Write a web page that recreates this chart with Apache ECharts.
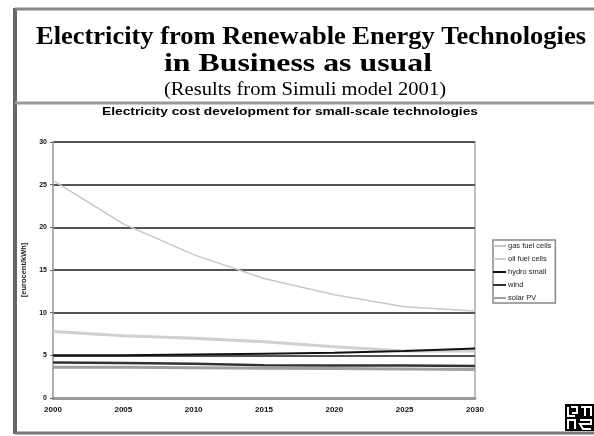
<!DOCTYPE html>
<html>
<head>
<meta charset="utf-8">
<script src="https://cdn.jsdelivr.net/npm/echarts@6/dist/echarts.min.js"></script>
<style>
  html, body { margin: 0; padding: 0; background: #fff; }
  #chart { width: 594px; height: 436px; }
</style>
</head>
<body>
<div id="chart"></div>
<script>
// Cost development, small-scale renewable technologies (cent/kWh)
const years = [2000, 2005, 2010, 2015, 2020, 2025, 2030];
const gasFuelCells = [25.5, 20.4, 16.8, 14.0, 12.1, 10.7, 10.2];
const oilFuelCells = [7.8, 7.3, 7.0, 6.6, 6.0, 5.5, 5.5];
const hydroSmall = [5.0, 5.0, 5.1, 5.2, 5.3, 5.5, 5.8];
const wind = [4.15, 4.1, 4.0, 3.85, 3.8, 3.8, 3.75];
const solarPV = [3.6, 3.6, 3.55, 3.5, 3.45, 3.4, 3.35];
const seriesNames = ['gas fuel cells', 'oil fuel cells', 'hydro small', 'wind', 'solar PV'];
const yTicks = [0, 5, 10, 15, 20, 25, 30];

const pairs = vals => years.map((y, i) => [y, vals[i]]);

// horizontal stretch so a heading spans a given width
const measureCtx = document.createElement('canvas').getContext('2d');
function stretchTo(text, font, width) {
  measureCtx.font = font;
  return width / measureCtx.measureText(text).width;
}

function heading(text, cx, cy, family, weight, size, width) {
  const font = `${weight} ${size}px "${family}"`;
  return {
    type: 'text', x: cx, y: cy, scaleX: stretchTo(text, font, width),
    style: { text, font, fill: '#000', align: 'center', verticalAlign: 'middle' }
  };
}

const chart = echarts.init(document.getElementById('chart'), null, { renderer: 'canvas' });

const lineSeries = (name, vals, color, width) => ({
  name, type: 'line', data: pairs(vals), showSymbol: false, symbol: 'none',
  lineStyle: { color, width }, itemStyle: { color },
  emphasis: { disabled: true }, z: 3
});

chart.setOption({
  backgroundColor: '#fff',
  animation: false,
  grid: { left: 53, right: 119, top: 142, bottom: 38, show: true, borderColor: '#aaa', borderWidth: 1.5 },
  legend: {
    data: seriesNames, orient: 'vertical', left: 493, top: 240,
    itemWidth: 13, itemHeight: 2, itemGap: 5,
    padding: [2, 4, 1, 0],
    borderColor: '#888', borderWidth: 1.5,
    textStyle: { fontFamily: 'Liberation Sans', fontSize: 7.5, color: '#222', padding: [0, 0, 0, -3] },
    icon: 'rect'
  },
  xAxis: {
    type: 'value', min: 2000, max: 2030, interval: 5,
    axisLine: { show: true, lineStyle: { color: '#999', width: 3 } },
    axisTick: { show: false },
    splitLine: { show: false },
    axisLabel: { margin: 8, fontFamily: 'Liberation Sans', fontWeight: 'bold', fontSize: 8, color: '#111',
      formatter: v => String(v) }
  },
  yAxis: {
    type: 'value', min: 0, max: 30, interval: 5,
    name: '[eurocent/kWh]', nameLocation: 'middle', nameGap: 20, nameRotate: 90,
    nameTextStyle: { fontFamily: 'Liberation Sans', fontWeight: 'bold', fontSize: 7.5, color: '#222' },
    axisLine: { show: true, lineStyle: { color: '#aaa', width: 1.5 } },
    axisTick: { show: true, length: 3, lineStyle: { color: '#666' } },
    splitLine: { show: true, lineStyle: { color: '#555', width: 2 } },
    axisLabel: { margin: 6, fontFamily: 'Liberation Sans', fontWeight: 'bold', fontSize: 7, color: '#111',
      formatter: v => yTicks.includes(v) ? String(v) : '' }
  },
  series: [
    lineSeries('gas fuel cells', gasFuelCells, '#c8c8c8', 1.5),
    lineSeries('oil fuel cells', oilFuelCells, '#d0d0d0', 3),
    lineSeries('hydro small', hydroSmall, '#111', 2),
    lineSeries('wind', wind, '#333', 2.5),
    lineSeries('solar PV', solarPV, '#a0a0a0', 3)
  ],
  graphic: [
    // headings
    heading('Electricity from Renewable Energy Technologies', 311, 37, 'Liberation Serif', 'bold', 26, 550),
    heading('in Business as usual', 298, 64, 'Liberation Serif', 'bold', 26, 268),
    heading('(Results from Simuli model 2001)', 305, 90, 'Liberation Serif', 'normal', 19, 282),
    heading('Electricity cost development for small-scale technologies', 290, 112, 'Liberation Sans', 'bold', 11, 376),
    // slide frame
    { type: 'line', shape: { x1: 15, y1: 8, x2: 15, y2: 434 }, style: { stroke: '#666', lineWidth: 4 } },
    { type: 'line', shape: { x1: 15, y1: 9, x2: 594, y2: 9 }, style: { stroke: '#888', lineWidth: 3 } },
    { type: 'line', shape: { x1: 15, y1: 103, x2: 594, y2: 103 }, style: { stroke: '#999', lineWidth: 3 } },
    { type: 'line', shape: { x1: 15, y1: 433, x2: 594, y2: 433 }, style: { stroke: '#777', lineWidth: 3 } },
    // corner logo
    { type: 'group', left: 565, top: 404, children: [
      { type: 'rect', shape: { x: 0, y: 0, width: 29, height: 27 }, style: { fill: '#000' } },
      { type: 'polyline', shape: { points: [[3, 3], [3, 12], [10, 12]] }, style: { stroke: '#fff', lineWidth: 2, fill: null } },
      { type: 'polyline', shape: { points: [[6, 3], [12, 3], [12, 9], [7, 9]] }, style: { stroke: '#fff', lineWidth: 2, fill: null } },
      { type: 'polyline', shape: { points: [[16, 3], [26, 3], [26, 12]] }, style: { stroke: '#fff', lineWidth: 2, fill: null } },
      { type: 'line', shape: { x1: 20, y1: 3, x2: 20, y2: 12 }, style: { stroke: '#fff', lineWidth: 2 } },
      { type: 'polyline', shape: { points: [[3, 25], [3, 16], [10, 16], [10, 25]] }, style: { stroke: '#fff', lineWidth: 2, fill: null } },
      { type: 'polyline', shape: { points: [[15, 16], [26, 16], [26, 20], [15, 20], [18, 25], [26, 25]] }, style: { stroke: '#fff', lineWidth: 2, fill: null } }
    ] }
  ]
});
</script>
</body>
</html>
